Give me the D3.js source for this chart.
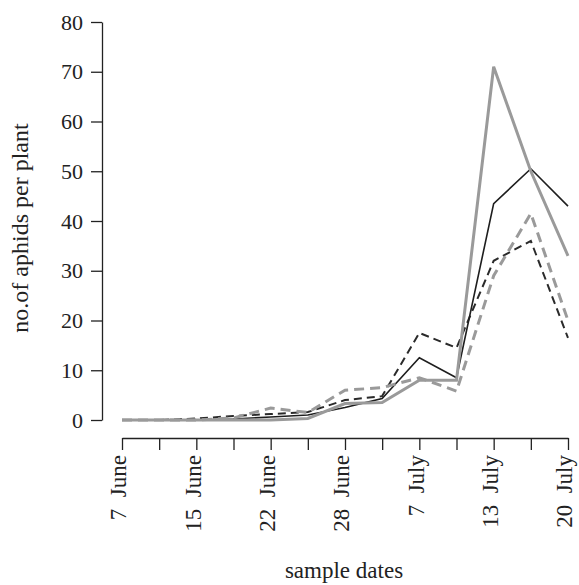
<!DOCTYPE html>
<html><head><meta charset="utf-8">
<script src="https://cdn.jsdelivr.net/npm/d3@7"></script>
<style>body{margin:0;background:#fff}svg{display:block}text{font-family:"Liberation Serif","Times New Roman",serif;fill:#222}</style>
</head><body><svg id="c" width="579" height="585"></svg>
<script>
const dates = ["7  June","","15  June","","22  June","","28  June","","7  July","","13  July","","20  July"];
const blackSolid  = [0,0,0,0.2,0.6,1.0,2.5,4.3,12.5,8.5,43.5,50.5,43];
const blackDashed = [0,0,0.3,0.8,1.2,1.6,4.0,4.8,17.5,14.5,32,36,16.5];
const greySolid   = [0,0,0,0,0,0.3,3.3,3.5,8,8,71,50,33];
const greyDashed  = [0,0,0,0.4,2.4,1.5,6,6.5,8.5,5.8,29,41.5,20];
const yTicks = [0,10,20,30,40,50,60,70,80];

const svg = d3.select("#c");
const idx = d3.range(dates.length);
const x = d3.scaleLinear().domain([0, dates.length-1]).range([122, 568]);
const y = d3.scaleLinear().domain([0, 80]).range([420, 22]);

// y axis
const ya = svg.append("g").attr("transform","translate(102,0)")
  .call(d3.axisLeft(y).tickValues(yTicks).tickSize(11).tickPadding(8).tickSizeOuter(0));
ya.select(".domain").attr("stroke","#222").attr("stroke-width",1.3);
ya.selectAll(".tick line").attr("stroke","#222").attr("stroke-width",1.3);
ya.selectAll(".tick text").style("font-size","22px").attr("fill","#222");

// x axis
const xa = svg.append("g").attr("transform","translate(0,438)")
  .call(d3.axisBottom(x).tickValues(idx).tickSize(12).tickSizeOuter(0).tickFormat(i => dates[i]));
xa.select(".domain").attr("stroke","#222").attr("stroke-width",1.3);
xa.selectAll(".tick line").attr("stroke","#222").attr("stroke-width",1.3);
xa.selectAll(".tick text").style("font-size","23px").attr("fill","#222")
  .attr("transform","rotate(-90)").attr("text-anchor","end")
  .attr("x",-17).attr("y",0).attr("dy","0.17em")
  .attr("xml:space","preserve").style("white-space","pre");

const line = d3.line().x((d,i)=>x(i)).y(d=>y(d));
const series = [
  {v: blackDashed, c:"#2a2a2a", w:2.0, dash:"8,5"},
  {v: blackSolid,  c:"#1e1e1e", w:1.6, dash:null},
  {v: greyDashed,  c:"#9a9a9a", w:3.0, dash:"10,6"},
  {v: greySolid,   c:"#9a9a9a", w:3.0, dash:null}
];
series.forEach(s=>{
  svg.append("path").datum(s.v).attr("d",line).attr("fill","none")
    .attr("stroke",s.c).attr("stroke-width",s.w)
    .attr("stroke-linejoin","miter")
    .attr("stroke-dasharray",s.dash);
});

svg.append("text").attr("transform","translate(20,228) rotate(-90)")
  .attr("text-anchor","middle").attr("dy","0.35em").style("font-size","24px").text("no.of aphids per plant");
svg.append("text").attr("x",344).attr("y",578)
  .attr("text-anchor","middle").style("font-size","23px").text("sample dates");
</script></body></html>
